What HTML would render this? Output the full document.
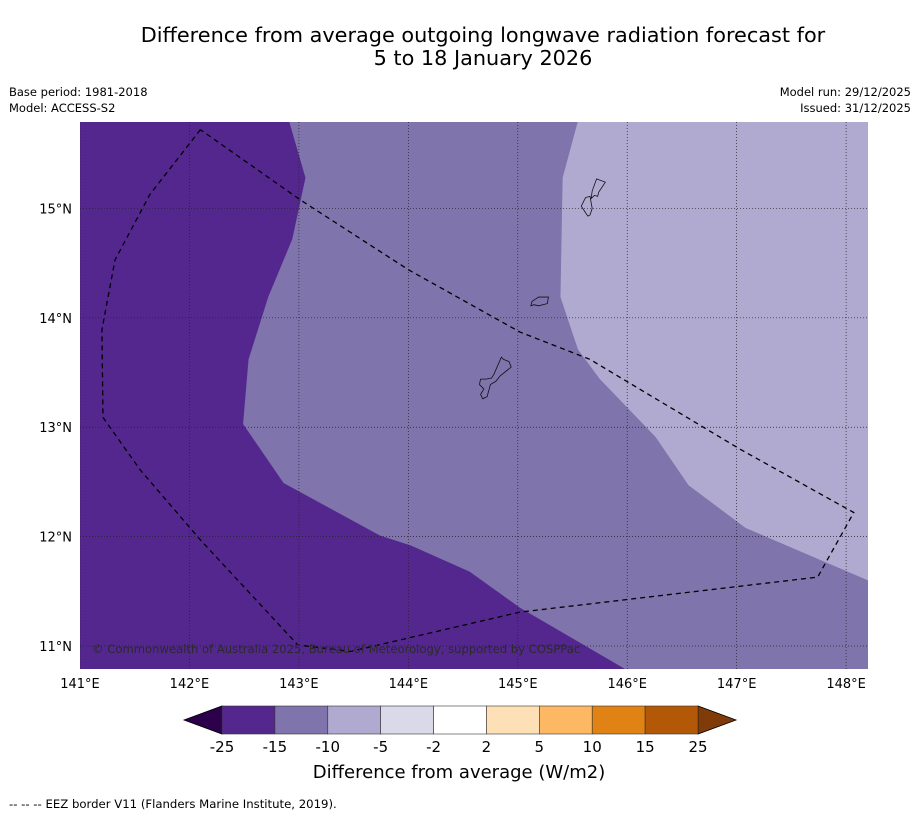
<!DOCTYPE html>
<html><head><meta charset="utf-8"><style>
body{margin:0;background:#fff;font-family:"Liberation Sans","DejaVu Sans",sans-serif;}
svg text{font-family:"DejaVu Sans","Liberation Sans",sans-serif;}
</style></head><body>
<svg id="chart" width="919" height="816" viewBox="0 0 919 816" xmlns="http://www.w3.org/2000/svg">
<text x="483" y="42" text-anchor="middle" font-size="20.8" fill="#000">Difference from average outgoing longwave radiation forecast for</text>
<text x="483" y="65" text-anchor="middle" font-size="20.8" fill="#000">5 to 18 January 2026</text>
<text x="9" y="96" font-size="11.5">Base period: 1981-2018</text>
<text x="9" y="112" font-size="11.5">Model: ACCESS-S2</text>
<text x="911" y="96" font-size="11.5" text-anchor="end">Model run: 29/12/2025</text>
<text x="911" y="112" font-size="11.5" text-anchor="end">Issued: 31/12/2025</text>
<defs><clipPath id="mapclip"><rect x="80" y="122" width="788" height="547"/></clipPath></defs>
<g id="map" clip-path="url(#mapclip)"></g>
<g id="axes"></g>
<g id="cbar"></g>
<text x="459" y="778" text-anchor="middle" font-size="18">Difference from average (W/m2)</text>
<text x="9" y="808" font-size="11.7">--  --  -- EEZ border V11 (Flanders Marine Institute, 2019).</text>
</svg>
<script>
const lonTicks=[141,142,143,144,145,146,147,148];
const latTicks=[11,12,13,14,15];
const lonRange=[141,148.2];
const latRange=[10.79,15.79];
// contour boundaries (lon, lat)
const darkMidLon=[142.91,143.06,142.94,142.72,142.54,142.49,142.86,143.74,144.02,144.56,145.02,145.98];
const darkMidLat=[15.80,15.28,14.72,14.19,13.62,13.03,12.49,12.01,11.92,11.68,11.35,10.79];
const midLightLon=[145.55,145.41,145.39,145.55,145.75,146.26,146.56,147.08,148.2];
const midLightLat=[15.80,15.28,14.19,13.71,13.44,12.91,12.47,12.08,11.60];
const eezLon=[142.10,141.64,141.32,141.20,141.21,141.55,142.10,142.99,143.47,145.02,147.74,148.07,147.03,145.66,145.02,144.0,143.01,142.10];
const eezLat=[15.72,15.13,14.53,13.89,13.09,12.61,11.97,11.01,10.95,11.31,11.63,12.22,12.80,13.62,13.87,14.44,15.08,15.72];
const guamLon=[144.87,144.92,144.94,144.84,144.80,144.75,144.72,144.68,144.66,144.69,144.65,144.66,144.71,144.76,144.78,144.85];
const guamLat=[13.62,13.60,13.55,13.47,13.42,13.39,13.28,13.26,13.30,13.35,13.39,13.44,13.44,13.45,13.48,13.64];
const rotaLon=[145.13,145.19,145.28,145.27,145.19,145.15,145.12];
const rotaLat=[14.15,14.19,14.19,14.13,14.11,14.12,14.11];
const tinLon=[145.62,145.66,145.68,145.66,145.64,145.60,145.58];
const tinLat=[15.10,15.11,15.00,14.94,14.93,14.99,15.02];
const saiLon=[145.72,145.80,145.74,145.73,145.70,145.67,145.68];
const saiLat=[15.27,15.24,15.15,15.11,15.12,15.09,15.16];
const cbarColors=["#54278f","#7f74ab","#b0aad0","#d9d9ea","#ffffff","#fee0b6","#fdb863","#e08214","#b35806"];
const cbarLabels=["-25","-15","-10","-5","-2","2","5","10","15","25"];
const colLow="#2d004b", colHigh="#7f3b08";

const X0=80,X1=868,Y0=122,Y1=669;
const xs=l=>X0+(l-lonRange[0])/(lonRange[1]-lonRange[0])*(X1-X0);
const ys=l=>Y1-(l-latRange[0])/(latRange[1]-latRange[0])*(Y1-Y0);
const NS="http://www.w3.org/2000/svg";
function mk(t,a,p){const e=document.createElementNS(NS,t);for(const k in a)e.setAttribute(k,a[k]);p.appendChild(e);return e;}
const pts=(lo,la)=>lo.map((v,i)=>xs(v)+","+ys(la[i])).join(" ");
const map=document.getElementById('map');
let r=mk('rect',{x:X0,y:Y0,width:X1-X0,height:Y1-Y0,fill:"#54278f"},map);


let midP=pts(darkMidLon,darkMidLat)+" "+xs(lonRange[1])+","+ys(latRange[0])+" "+xs(lonRange[1])+","+ys(16);
let p=mk('polygon',{points:midP,fill:"#7f74ab"},map);


let lightP=pts(midLightLon,midLightLat)+" "+xs(lonRange[1])+","+ys(16);
p=mk('polygon',{points:lightP,fill:"#b0aad0"},map);


lonTicks.forEach(l=>{let g=mk('line',{x1:xs(l),x2:xs(l),y1:Y0,y2:Y1,stroke:"#222",'stroke-width':0.7,'stroke-dasharray':"1,2"},map);

});
latTicks.forEach(l=>{let g=mk('line',{x1:X0,x2:X1,y1:ys(l),y2:ys(l),stroke:"#222",'stroke-width':0.7,'stroke-dasharray':"1,2"},map);

});
[[guamLon,guamLat,'guam'],[rotaLon,rotaLat,'rota'],[tinLon,tinLat,'tinian'],[saiLon,saiLat,'saipan']].forEach(a=>{
let e=mk('polygon',{points:pts(a[0],a[1]),fill:"none",stroke:"#111",'stroke-width':0.8},map);

});
let eez=mk('polyline',{points:pts(eezLon,eezLat),fill:"none",stroke:"#000",'stroke-width':1.3,'stroke-dasharray':"5,4"},map);


let cp=mk('text',{x:92,y:653,'font-size':11.6,fill:"#2a2a2a"},map);cp.textContent="© Commonwealth of Australia 2025, Bureau of Meteorology, supported by COSPPac";


const axes=document.getElementById('axes');
lonTicks.forEach(l=>{let t=mk('text',{x:xs(l),y:688,'font-size':13,'text-anchor':"middle"},axes);t.textContent=l+"°E";

});
latTicks.forEach(l=>{let t=mk('text',{x:72,y:ys(l)+5,'font-size':13,'text-anchor':"end"},axes);t.textContent=l+"°N";

});
const cb=document.getElementById('cbar');
const cx0=222,cx1=698,cy0=706,cy1=734,bw=(cx1-cx0)/cbarColors.length;
let tl=mk('polygon',{points:`${cx0},${cy0} ${cx0},${cy1} 184,${(cy0+cy1)/2}`,fill:colLow,stroke:"#000",'stroke-width':0.8},cb);


let tr=mk('polygon',{points:`${cx1},${cy0} ${cx1},${cy1} 736,${(cy0+cy1)/2}`,fill:colHigh,stroke:"#000",'stroke-width':0.8},cb);


cbarColors.forEach((c,i)=>{let b=mk('rect',{x:cx0+i*bw,y:cy0,width:bw,height:cy1-cy0,fill:c,stroke:"#333",'stroke-width':0.6},cb);

});
cbarLabels.forEach((s,i)=>{let t=mk('text',{x:cx0+i*bw,y:752,'font-size':15,'text-anchor':"middle"},cb);t.textContent=s;

});
</script>
</body></html>
